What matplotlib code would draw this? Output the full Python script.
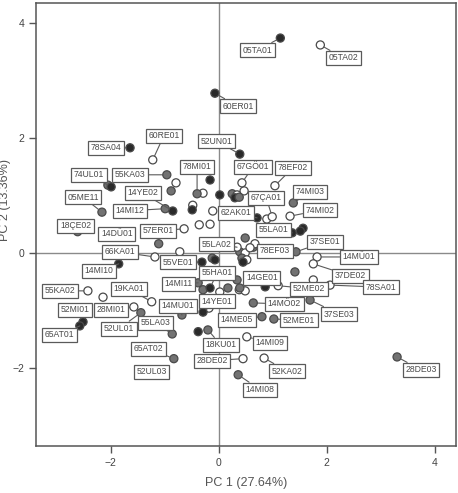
import matplotlib
matplotlib.use("Agg")
import matplotlib.pyplot as plt

plt.rcParams['font.family'] = ['Liberation Sans', 'DejaVu Sans']

# ---- labelled samples ----
lab_names = ["05TA01", "05TA02", "60ER01", "60RE01", "52UN01", "78SA04", "74UL01", "55KA03",
             "05ME11", "14YE02", "14MI12", "78MI01", "18ÇE02", "14DÜ01", "57ER01", "66KA01",
             "14MI10", "55VE01", "55LA02", "55LA01", "67GÖ01", "78EF02", "67ÇA01", "74MI03",
             "74MI02", "62AK01", "37SE01", "78EF03", "14MÜ01", "37DE02", "78SA01", "52ME02",
             "14GE01", "14MÖ02", "37SE03", "52ME01", "14ME05", "14MI09", "18KU01", "28DE02",
             "52KA02", "14MI08", "28DE03", "55KA02", "19KA01", "52MI01", "28MI01", "52UL01",
             "55LA03", "65AT01", "65AT02", "52UL03", "14MI11", "14MU01", "14YE01", "55HA01"]
lab_pc1 = [1.14, 1.88, -0.07, -1.22, 0.39, -1.64, -1.99, -0.96,
           -2.16, -0.85, -0.99, -0.40, -2.61, -1.83, -0.64, -1.18,
           -1.85, -0.31, 0.34, 1.36, 0.43, 1.04, 0.99, 1.38,
           1.32, 0.71, 1.43, 0.58, 1.82, 1.75, 2.06, 1.10,
           0.39, 0.64, 1.69, 1.02, 0.80, 0.52, -0.20, 0.45,
           0.84, 0.36, 3.30, -2.42, -1.24, -2.51, -1.57, -1.44,
           -0.86, -2.57, -0.83, -1.09, -0.38, -0.68, -0.29, -0.16]
lab_pc2 = [3.74, 3.62, 2.78, 1.62, 1.72, 1.83, 1.15, 1.36,
           0.71, 0.73, 0.77, 1.03, 0.37, 0.30, 0.42, -0.07,
           -0.19, -0.16, 0.10, 0.35, 1.22, 1.17, 0.63, 0.87,
           0.64, 0.61, 0.02, 0.09, -0.07, -0.19, -0.56, -0.57,
           -0.61, -0.87, -0.82, -1.15, -1.11, -1.46, -1.34, -1.84,
           -1.83, -2.12, -1.81, -0.66, -0.85, -1.20, -0.94, -1.04,
           -1.41, -1.27, -1.84, -2.07, -0.52, -1.08, -1.03, -0.61]
lab_group = ["A", "C", "A", "C", "A", "A", "A", "B",
             "B", "A", "B", "B", "B", "B", "C", "C",
             "A", "A", "C", "A", "C", "C", "C", "B",
             "C", "A", "B", "C", "C", "C", "C", "C",
             "B", "B", "B", "B", "B", "C", "B", "C",
             "C", "B", "B", "C", "C", "A", "C", "B",
             "B", "A", "B", "B", "B", "B", "A", "A"]
# label box offsets (pixels) from each sample
lab_dx = [-23, 23, 23, 11, -23, -24, -22, -37, -19, -30, -35, 0, -2, -3, -26, -35,
          -20, -24, -21, -19, 11, 18, -6, 17, 30, -21, 29, 25, 42, 37, 51, 31,
          22, 31, 29, 25, -25, 23, 13, -31, 23, 22, 24, -28, -23, -8, -23, -22,
          -17, -20, -25, -8, -20, -4, 14, 7]
lab_dy = [-12, -13, -13, 24, 13, 0, 12, 0, 15, 18, -2, 27, 6, 2, -2, 5,
          -7, 0, 3, 3, 16, 18, 19, 11, 6, 5, 10, -3, 0, -12, -2, -3,
          10, -1, -14, -1, -3, -6, -15, -2, -13, -15, -13, 0, 13, 12, -3, -16,
          11, -9, 10, 0, -1, 9, 11, 15]

# ---- unlabelled samples ----
unl_pc1 = [-0.79, -0.16, -0.88, 0.02, -0.29, 0.25, 0.34, 0.47, 0.30, 0.38,
           -0.48, -0.49, -0.11, 0.89, 1.56, -0.36, -0.16, 1.51, -1.11, -0.72,
           -0.12, -0.07, 0.39, 0.49, 0.43, 0.52, 0.64, 0.67, 0.45, 1.41,
           -0.29, 0.17, 0.38, 0.02, -2.14, -0.18, -0.38, 0.49, 0.49, 0.86,
           1.75, -2.05, 0.34]
unl_pc2 = [1.22, 1.27, 1.08, 1.01, 1.04, 1.03, 1.01, 1.08, 0.96, 0.97,
           0.83, 0.75, 0.73, 0.59, 0.43, 0.49, 0.50, 0.38, 0.16, 0.02,
           -0.09, -0.12, 0.02, 0.00, -0.09, -0.12, 0.10, 0.16, -0.16, -0.33,
           -0.64, -0.61, -0.64, -0.68, -0.77, -0.96, -1.37, 0.26, -0.66, -0.59,
           -0.47, 1.18, -0.47]
unl_group = ["C", "A", "B", "A", "C", "B", "C", "C", "A", "B",
             "C", "A", "C", "C", "A", "C", "C", "A", "B", "C",
             "B", "A", "B", "C", "B", "C", "B", "C", "A", "B",
             "B", "B", "C", "C", "C", "C", "A", "B", "C", "A",
             "C", "B", "B"]

x_ticks = [-2, 0, 2, 4]
y_ticks = [-2, 0, 2, 4]
x_title = "PC 1 (27.64%)"
y_title = "PC 2 (13.36%)"

group_fill = {"A": "#2a2a2a", "B": "#727272", "C": "#ffffff"}

fig = plt.figure(figsize=(4.58, 4.93), dpi=100)
ax = fig.add_axes([36 / 458, 47 / 493, 420 / 458, 443 / 493])
ax.set_xlim(-3.38, 4.39)
ax.set_ylim(-3.36, 4.35)

ax.axhline(0, color="#8a8a8a", lw=1.0, zorder=1)
ax.axvline(0, color="#8a8a8a", lw=1.0, zorder=1)

all_pc1 = unl_pc1 + lab_pc1
all_pc2 = unl_pc2 + lab_pc2
all_grp = unl_group + lab_group
ax.scatter(all_pc1, all_pc2, s=34, c=[group_fill[g] for g in all_grp],
           edgecolors="#4a4a4a", linewidths=0.9, zorder=3)

for name, x, y, dx, dy in zip(lab_names, lab_pc1, lab_pc2, lab_dx, lab_dy):
    ax.annotate(name, xy=(x, y), xytext=(dx, dy), textcoords="offset pixels",
                ha="center", va="center", fontsize=6.2, color="#4a4a4a",
                bbox=dict(boxstyle="square,pad=0.3", fc="white", ec="#5a5a5a", lw=0.9),
                arrowprops=dict(arrowstyle="-", color="#5a5a5a", lw=0.8,
                                shrinkA=0, shrinkB=3),
                zorder=4)

ax.set_xticks(x_ticks)
ax.set_yticks(y_ticks)
ax.tick_params(direction="out", length=5, width=1, colors="#555555",
               labelsize=7.5, labelcolor="#444444")
for s in ax.spines.values():
    s.set_color("#555555")
    s.set_linewidth(1.1)

ax.set_xlabel(x_title, fontsize=9, color="#555555")
ax.set_ylabel(y_title, fontsize=9, color="#555555")
ax.xaxis.set_label_coords(0.5, -0.07)
ax.yaxis.set_label_coords(-0.06, 0.555)

fig.savefig("out.png", dpi=100)
